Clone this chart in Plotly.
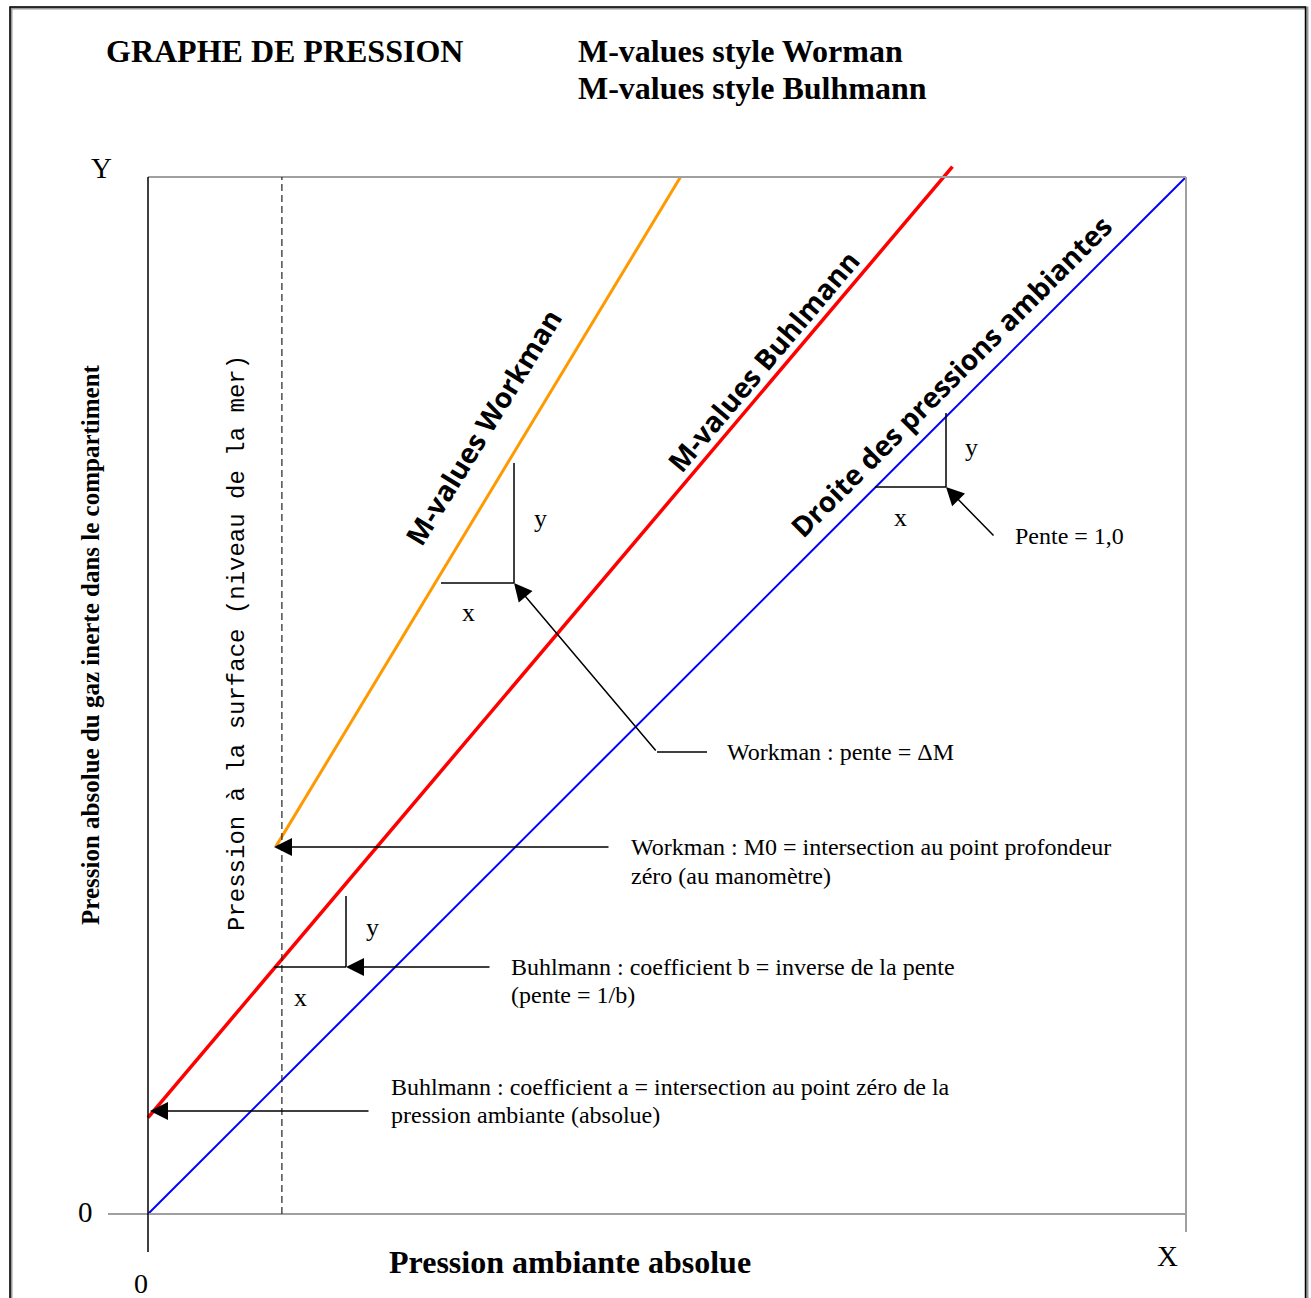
import plotly.graph_objects as go

# ---------------- data (chart units: 0..10 on both axes) ----------------
ambient_x = [0.0, 10.0]
ambient_y = [0.0, 10.0]
buhlmann_x = [0.0, 7.75]
buhlmann_y = [0.93, 10.10]
workman_x = [1.23, 5.13]
workman_y = [3.54, 10.0]
surface_x = 1.29          # pression à la surface (niveau de la mer)
axis_max = 10.0
tick_zero = "0"
x_name = "X"
y_name = "Y"

# ---------------- geometry helpers (page pixels -> chart units) ---------
W, H = 1311, 1298
X0PX, X10PX = 148, 1186
Y0PX, Y10PX = 1214, 177
sx = (X10PX - X0PX) / axis_max
sy = (Y0PX - Y10PX) / axis_max


def px(x):
    return (x - X0PX) / sx


def py(y):
    return (Y0PX - y) / sy


xrange_ = [px(0), px(W)]
yrange_ = [py(H), py(0)]

SERIF = "Liberation Serif, Times New Roman, serif"
MONO = "Liberation Mono, DejaVu Sans Mono, monospace"
COMIC = "Open Sans, Noto Sans, sans-serif"

fig = go.Figure()

# main lines
fig.add_trace(go.Scatter(x=ambient_x, y=ambient_y, mode="lines",
                         line=dict(color="#0000ff", width=2), hoverinfo="skip"))
fig.add_trace(go.Scatter(x=buhlmann_x, y=buhlmann_y, mode="lines",
                         line=dict(color="#ff0000", width=3.5), hoverinfo="skip"))
fig.add_trace(go.Scatter(x=workman_x, y=workman_y, mode="lines",
                         line=dict(color="#ff9900", width=3), hoverinfo="skip"))

shapes = []
# outer frame
shapes.append(dict(type="rect", x0=px(11), x1=px(1307), y0=py(1320), y1=py(8),
                   line=dict(color="#9a9a9a", width=3)))
shapes.append(dict(type="rect", x0=px(10), x1=px(1305.5), y0=py(1320), y1=py(7),
                   line=dict(color="#000000", width=1.5)))
GRAY = "#a0a0a0"
# plot box (gray)
shapes.append(dict(type="line", x0=px(108), x1=axis_max, y0=0, y1=0,
                   line=dict(color=GRAY, width=2)))
shapes.append(dict(type="line", x0=0, x1=axis_max, y0=axis_max, y1=axis_max,
                   line=dict(color=GRAY, width=2)))
shapes.append(dict(type="line", x0=axis_max, x1=axis_max, y0=py(1232), y1=axis_max,
                   line=dict(color=GRAY, width=2)))
# black Y axis
shapes.append(dict(type="line", x0=0, x1=0, y0=py(1252), y1=axis_max,
                   line=dict(color="#000000", width=1.5)))
# dashed surface line
shapes.append(dict(type="line", x0=surface_x, x1=surface_x, y0=0, y1=axis_max,
                   line=dict(color="#222222", width=1.2, dash="7px,4px")))

BLK = dict(color="#000000", width=1.5)
# Workman slope triangle
shapes.append(dict(type="line", x0=px(441), x1=px(514), y0=py(583), y1=py(583), line=BLK))
shapes.append(dict(type="line", x0=px(514), x1=px(514), y0=py(583), y1=py(463), line=BLK))
shapes.append(dict(type="line", x0=px(657), x1=px(707), y0=py(752), y1=py(752), line=BLK))
# ambient slope triangle
shapes.append(dict(type="line", x0=px(875), x1=px(946), y0=py(487), y1=py(487), line=BLK))
shapes.append(dict(type="line", x0=px(946), x1=px(946), y0=py(487), y1=py(413), line=BLK))
# Buhlmann slope triangle
shapes.append(dict(type="line", x0=px(274), x1=px(346), y0=py(967), y1=py(967), line=BLK))
shapes.append(dict(type="line", x0=px(346), x1=px(346), y0=py(967), y1=py(896), line=BLK))

ann = []


def arrow(tx, ty, hx, hy):
    ann.append(dict(x=px(hx), y=py(hy), ax=px(tx), ay=py(ty), xref="x", yref="y",
                    axref="x", ayref="y", text="", showarrow=True,
                    arrowhead=2, arrowsize=2.4, arrowwidth=1.5, arrowcolor="#000000",
                    standoff=0, startstandoff=0))


def txt(x, y, s, size=24, family=SERIF, xanchor="left", yanchor="middle",
        angle=0, bold=False):
    if bold:
        s = "<b>" + s + "</b>"
    ann.append(dict(x=x, y=y, xref="x", yref="y", text=s, showarrow=False,
                    xanchor=xanchor, yanchor=yanchor, textangle=angle,
                    font=dict(family=family, size=size, color="#000000")))


arrow(657, 752, 514, 583)
arrow(995, 537, 946, 487)
arrow(610, 847, 274, 847)
arrow(491, 967, 346, 967)
arrow(370, 1111, 150, 1111)

# header texts
txt(px(104), py(51), "GRAPHE DE PRESSION", size=32, bold=True)
txt(px(576), py(51), "M-values style Worman", size=32, bold=True)
txt(px(576), py(88), "M-values style Bulhmann", size=32, bold=True)

# axis names / ticks
txt(px(101), py(168), y_name, size=29, xanchor="center")
txt(px(1167), py(1256), x_name, size=29, xanchor="center")
txt(px(85), py(1212), tick_zero, size=29, xanchor="center")
txt(px(141), py(1283), tick_zero, size=28, xanchor="center")
txt(px(570), py(1262), "Pression ambiante absolue", size=32, xanchor="center", bold=True)
txt(px(90), py(645), "Pression absolue du gaz inerte dans le compartiment",
    size=25, xanchor="center", angle=-90, bold=True)
txt(px(237), py(643), "Pression à la surface (niveau de la mer)",
    size=24, family=MONO, xanchor="center", angle=-90)

# line labels
txt(px(483), py(427), "M-values Workman", size=28, family=COMIC, xanchor="center",
    angle=-58.5, bold=True)
txt(px(763), py(361), "M-values Buhlmann", size=28, family=COMIC, xanchor="center",
    angle=-49.8, bold=True)
txt(px(951), py(376), "Droite des pressions ambiantes", size=28, family=COMIC,
    xanchor="center", angle=-45, bold=True)

# x / y small labels
for (lx, ly, s) in [(540, 518, "y"), (468, 612, "x"), (971, 447, "y"), (900, 517, "x"),
                    (372, 927, "y"), (300, 997, "x")]:
    txt(px(lx), py(ly), s, size=26, xanchor="center")

# explanatory labels
txt(px(725), py(752), "Workman : pente = ΔM")
txt(px(1013), py(536), "Pente = 1,0")
txt(px(629), py(847), "Workman : M0 = intersection au point profondeur")
txt(px(629), py(876), "zéro (au manomètre)")
txt(px(509), py(967), "Buhlmann : coefficient b = inverse de la pente")
txt(px(509), py(995), "(pente = 1/b)")
txt(px(389), py(1087), "Buhlmann : coefficient a = intersection au point zéro de la")
txt(px(389), py(1115), "pression ambiante (absolue)")

fig.update_layout(
    width=W, height=H, margin=dict(l=0, r=0, t=0, b=0),
    paper_bgcolor="white", plot_bgcolor="white", showlegend=False,
    xaxis=dict(range=xrange_, visible=False, fixedrange=True),
    yaxis=dict(range=yrange_, visible=False, fixedrange=True),
    shapes=shapes, annotations=ann,
)

fig.write_html(
    "out.html",
    config={"displayModeBar": False},
    post_script="document.documentElement.style.overflow='hidden';"
                "document.body.style.margin='0px';document.body.style.overflow='hidden';",
)
